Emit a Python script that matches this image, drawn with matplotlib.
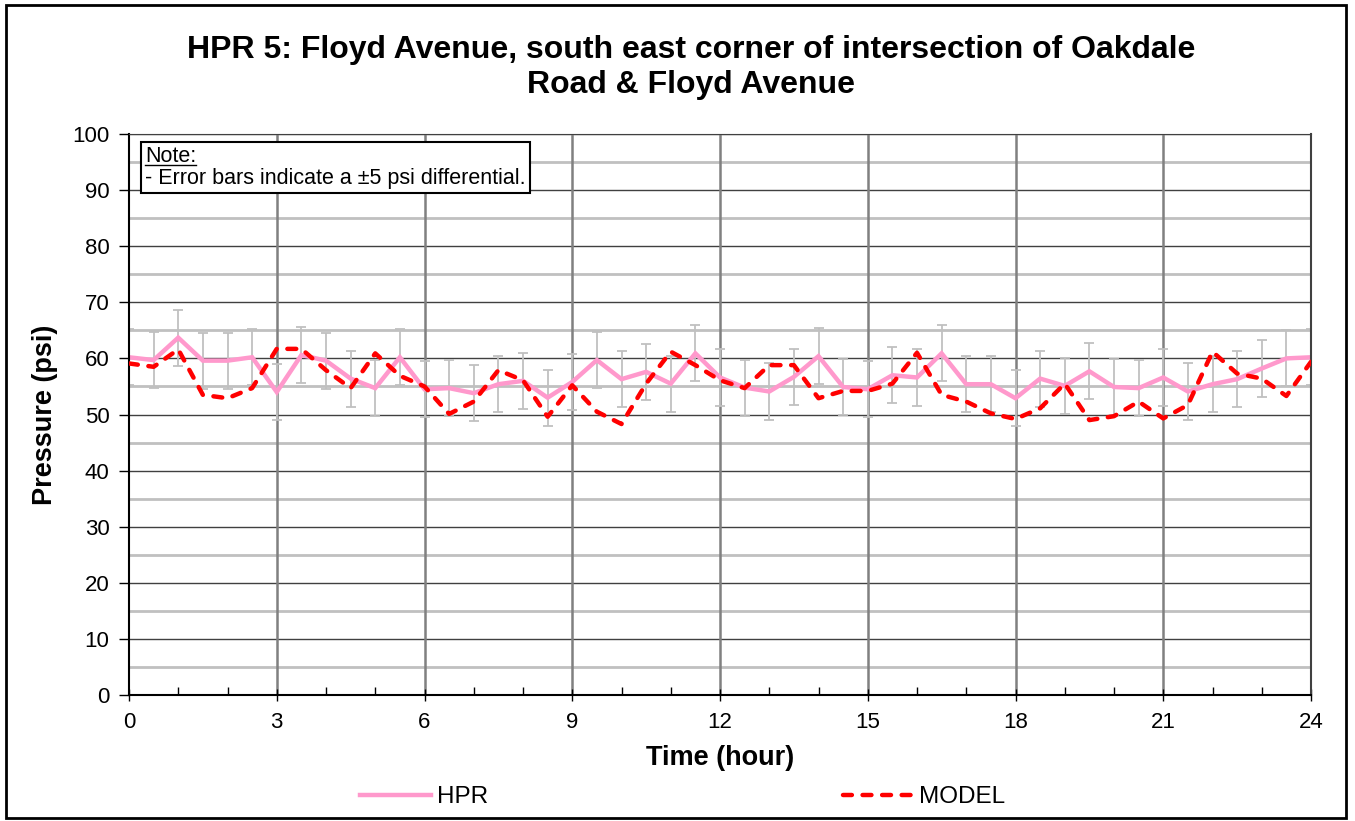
import numpy as np
import matplotlib
matplotlib.use("Agg")
import matplotlib.pyplot as plt
from matplotlib.patches import Rectangle

plt.rcParams['font.family'] = ['Liberation Sans', 'DejaVu Sans']

# half-hour readings, 0 to 24 h
hours = np.arange(0, 24.01, 0.5)

hpr = [60.2, 59.7, 63.7, 59.6, 59.6, 60.2, 54.0, 60.6, 59.6, 56.4, 54.7, 60.2,
       54.5, 54.7, 53.8, 55.4, 56.0, 53.0, 55.8, 59.7, 56.3, 57.6, 55.5, 60.9,
       56.6, 54.8, 54.1, 56.7, 60.4, 54.9, 54.5, 57.0, 56.6, 60.9, 55.4, 55.4,
       52.9, 56.4, 55.1, 57.7, 54.9, 54.7, 56.6, 54.1, 55.4, 56.3, 58.2, 60.0, 60.2]

model = [59.1, 58.5, 61.6, 53.5, 52.9, 54.7, 61.7, 61.7, 57.9, 54.7, 60.9, 56.9,
         55.0, 50.1, 52.3, 57.9, 56.1, 49.6, 55.2, 50.5, 48.3, 55.5, 61.2, 58.8,
         56.1, 54.7, 58.8, 58.8, 52.9, 54.2, 54.2, 55.5, 61.0, 53.5, 52.3, 50.2,
         49.2, 51.1, 55.5, 49.0, 49.7, 52.3, 49.3, 51.7, 61.2, 57.3, 56.4, 53.3, 59.4]

err = 5  # psi differential

fig = plt.figure(figsize=(13.55, 8.21), dpi=100)
fig.patches.append(Rectangle((0.0045, 0.004), 0.989, 0.99, transform=fig.transFigure,
                             fill=False, edgecolor='black', linewidth=2))
ax = fig.add_axes([129/1355, 1 - 695/821, (1311 - 129)/1355, (695 - 134)/821])

# grid
for y in np.arange(5, 100, 10):
    ax.axhline(y, color='#c0c0c0', lw=2, zorder=0)
for y in np.arange(10, 101, 10):
    ax.axhline(y, color='#404040', lw=1, zorder=0.5)
for x in np.arange(3, 24, 3):
    ax.axvline(x, color='#808080', lw=1.8, zorder=0.5)

ax.errorbar(hours, hpr, yerr=err, fmt='none', ecolor='#c0c0c0', elinewidth=1.3,
            capsize=3.8, capthick=1.3, zorder=1)
ax.plot(hours, hpr, color='#ff99cc', lw=3.2, label='HPR', zorder=2,
        solid_joinstyle='miter')
ax.plot(hours, model, color='#ff0000', lw=3.2, label='MODEL', zorder=3,
        dashes=(2.0, 2.4), dash_capstyle='round')

ax.set_xlim(0, 24)
ax.set_ylim(0, 100)
ax.set_xticks(np.arange(0, 25, 3))
ax.set_xticks(np.arange(0, 25, 1), minor=True)
ax.set_yticks(np.arange(0, 101, 10))
ax.tick_params(axis='x', which='major', direction='inout', length=8, width=1,
               labelsize=16, pad=8)
ax.tick_params(axis='x', which='minor', direction='in', length=6, width=1)
ax.tick_params(axis='y', direction='out', length=7, width=1, labelsize=16, pad=7)

for side in ['left', 'bottom']:
    ax.spines[side].set_color('black')
    ax.spines[side].set_linewidth(1.5)
ax.spines['top'].set_color('#404040')
ax.spines['right'].set_color('#404040')
ax.spines['right'].set_linewidth(1.5)

ax.set_xlabel('Time (hour)', fontsize=19.5, fontweight='bold', labelpad=9)
ax.set_ylabel('Pressure (psi)', fontsize=19.5, fontweight='bold', labelpad=10)

fig.text(0.51, 0.918, 'HPR 5: Floyd Avenue, south east corner of intersection of Oakdale\nRoad & Floyd Avenue',
         ha='center', va='center', fontsize=23, fontweight='bold', linespacing=1.22)

# note box with underlined "Note:"
nx, ny = 16/1182, 1 - 12/561
ax.text(nx, ny, 'Note:\n- Error bars indicate a \u00b15 psi differential.',
        transform=ax.transAxes, ha='left', va='top', fontsize=15.5, linespacing=1.05,
        bbox=dict(boxstyle='square,pad=0.2', facecolor='white', edgecolor='black', lw=1.5),
        zorder=5)
head = ax.text(nx, ny, 'Note:', transform=ax.transAxes, ha='left', va='top',
               fontsize=15.5, color='none')
fig.canvas.draw()
bb = head.get_window_extent().transformed(ax.transAxes.inverted())
head.remove()
ax.plot([bb.x0, bb.x1], [bb.y0 + 0.004, bb.y0 + 0.004], transform=ax.transAxes,
        color='black', lw=1, zorder=6)

fig.legend(loc='center', bbox_to_anchor=(0.504, 0.029), ncol=2, frameon=False,
           fontsize=17.5, handlelength=2.9, columnspacing=14.6, handletextpad=0.25)

fig.savefig('out.png', dpi=100)
